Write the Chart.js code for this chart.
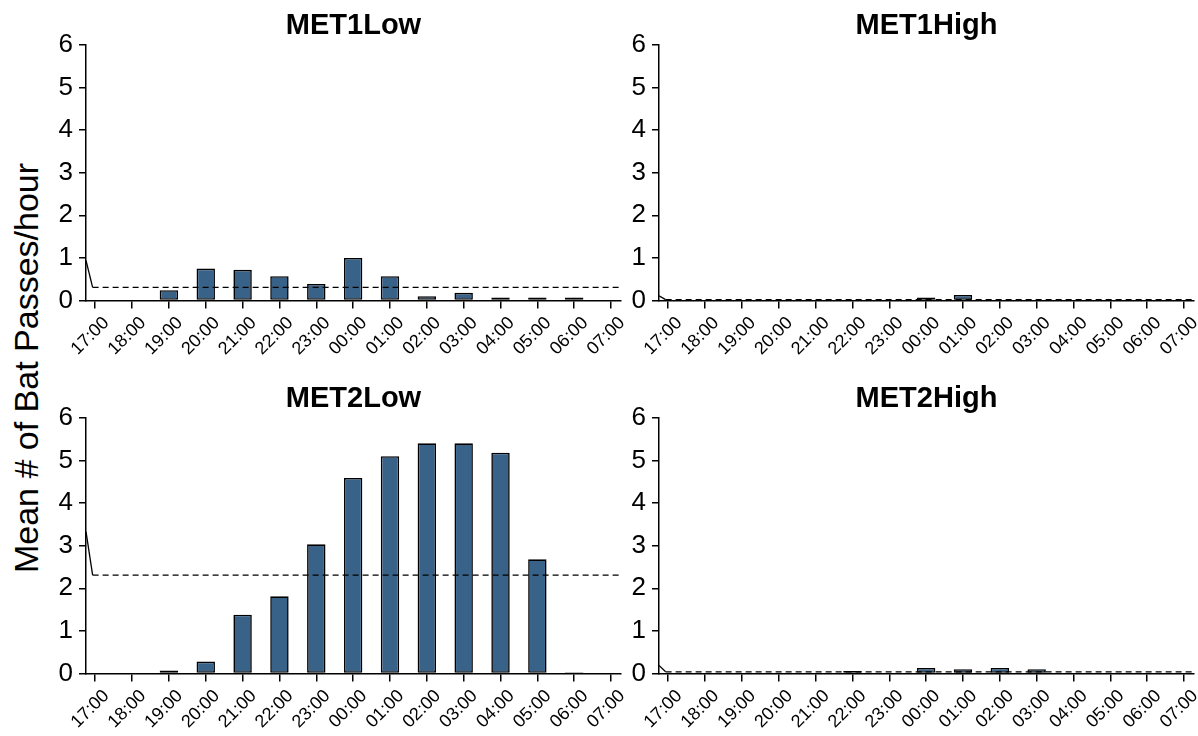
<!DOCTYPE html>
<html>
<head>
<meta charset="utf-8">
<script src="https://cdn.jsdelivr.net/npm/chart.js@4.4.0/dist/chart.umd.min.js"></script>
<style>
  body { margin: 0; background: #fff; width: 1198px; height: 736px; overflow: hidden; position: relative; font-family: Arial, "Liberation Sans", sans-serif; }
  canvas { position: absolute; }
  #yTitle { position: absolute; left: 26px; top: 368px; transform: translate(-50%, -50%) rotate(-90deg); font-size: 34px; white-space: nowrap; color: #000; }
</style>
</head>
<body>
<div id="yTitle">Mean # of Bat Passes/hour</div>
<canvas id="c1" width="597" height="362" style="left:40px;top:0px"></canvas>
<canvas id="c2" width="597" height="362" style="left:613px;top:0px"></canvas>
<canvas id="c3" width="597" height="362" style="left:40px;top:373px"></canvas>
<canvas id="c4" width="597" height="362" style="left:613px;top:373px"></canvas>
<script>
const hours = ['17:00', '18:00', '19:00', '20:00', '21:00', '22:00', '23:00', '00:00',
  '01:00', '02:00', '03:00', '04:00', '05:00', '06:00', '07:00'];

const met1Low  = [0, 0, 0.24, 0.75, 0.72, 0.57, 0.39, 1.0, 0.57, 0.10, 0.18, 0.07, 0.07, 0.07, 0];
const met1High = [0, 0, 0, 0.02, 0.02, 0.02, 0.02, 0.07, 0.13, 0, 0.02, 0, 0, 0.02, 0];
const met2Low  = [0, 0, 0.07, 0.28, 1.38, 1.81, 3.03, 4.59, 5.10, 5.40, 5.40, 5.18, 2.68, 0.03, 0];
const met2High = [0, 0, 0, 0, 0, 0.06, 0.02, 0.13, 0.10, 0.13, 0.10, 0.02, 0.02, 0, 0];

const titles = ['MET1Low', 'MET1High', 'MET2Low', 'MET2High'];
const means = [0.31, 0.02, 2.31, 0.04];
// where the mean line comes in from the left edge
const leadIn = [0.94, 0.11, 3.33, 0.19];

const FONT = 'Arial, "Liberation Sans", sans-serif';
const X_MIN = -0.25, X_MAX = 14.27, MEAN_START = -0.07;

function makeChart(id, title, values, mean, lead) {
  return new Chart(document.getElementById(id), {
    type: 'bar',
    data: {
      datasets: [
        {
          type: 'line',
          data: [{ x: X_MIN, y: lead }, { x: MEAN_START, y: mean }, { x: X_MAX, y: mean }],
          borderColor: '#000',
          borderWidth: 1.3,
          borderDash: [6, 4],
          segment: { borderDash: ctx => ctx.p0DataIndex === 0 ? [] : undefined },
          pointRadius: 0,
          tension: 0,
          order: 0
        },
        {
          data: values.map((v, i) => ({ x: i, y: v })),
          backgroundColor: '#396289',
          borderColor: '#000',
          borderWidth: 1.6,
          borderSkipped: false,
          barPercentage: 0.5,
          categoryPercentage: 1,
          order: 1
        }
      ]
    },
    options: {
      responsive: false,
      animation: false,
      layout: { padding: { left: 0, top: 0, bottom: 0, right: 16 } },
      plugins: {
        legend: { display: false },
        tooltip: { enabled: false },
        title: {
          display: true,
          text: title,
          fullSize: false,
          color: '#000',
          font: { family: FONT, size: 29, weight: 'bold' },
          padding: { top: 9, bottom: 1 }
        }
      },
      scales: {
        x: {
          type: 'linear',
          min: X_MIN,
          max: X_MAX,
          offset: false,
          grid: { drawOnChartArea: false, tickLength: 8, color: '#000', lineWidth: 1.5, offset: false },
          border: { color: '#000', width: 1.5 },
          ticks: {
            stepSize: 1,
            includeBounds: false,
            autoSkip: false,
            minRotation: 45,
            maxRotation: 45,
            padding: 4,
            labelOffset: 11,
            color: '#000',
            font: { family: FONT, size: 18 },
            callback: v => hours[v] ?? ''
          },
          afterFit: s => { s.height = 61.5; s.paddingLeft = 0; s.paddingRight = 0; }
        },
        y: {
          min: 0,
          max: 6,
          grid: { drawOnChartArea: false, tickLength: 7, color: '#000', lineWidth: 1.5 },
          border: { color: '#000', width: 1.5 },
          ticks: { stepSize: 1, padding: 6, color: '#000', font: { family: FONT, size: 26 } },
          afterFit: s => { s.width = 46; s.paddingTop = 0; s.paddingBottom = 0; }
        }
      }
    }
  });
}

makeChart('c1', titles[0], met1Low, means[0], leadIn[0]);
makeChart('c2', titles[1], met1High, means[1], leadIn[1]);
makeChart('c3', titles[2], met2Low, means[2], leadIn[2]);
makeChart('c4', titles[3], met2High, means[3], leadIn[3]);
</script>
</body>
</html>
